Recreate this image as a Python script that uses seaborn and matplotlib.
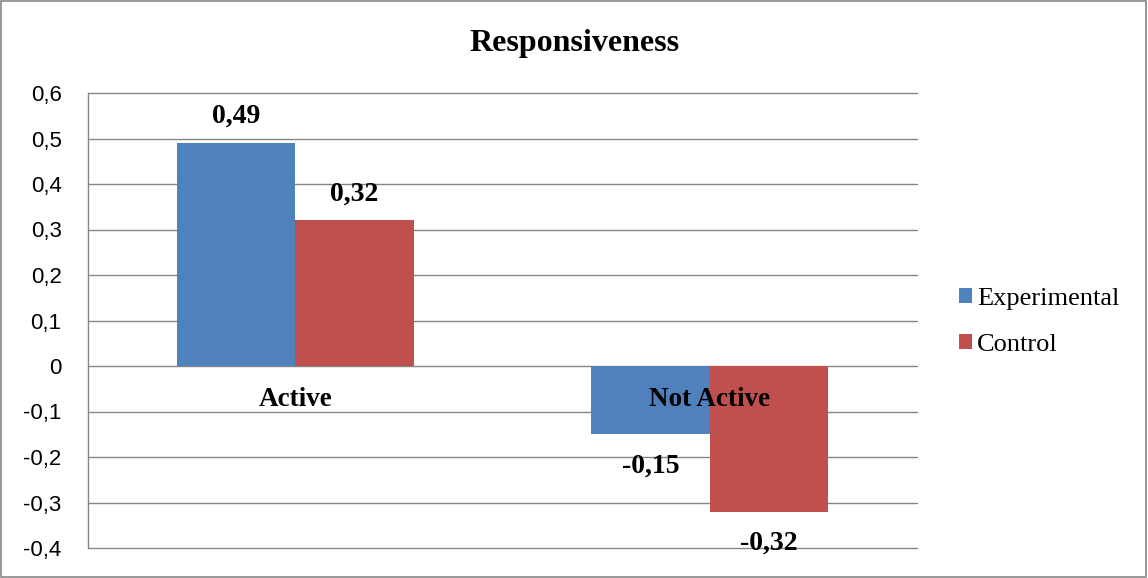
import matplotlib
matplotlib.use("Agg")
import matplotlib.pyplot as plt
import matplotlib.ticker as mticker
from matplotlib.patches import Rectangle
import seaborn as sns
import pandas as pd

categories = ["Active", "Not Active"]
series = ["Experimental", "Control"]
experimental = [0.49, -0.15]
control = [0.32, -0.32]
yticks = [-0.4, -0.3, -0.2, -0.1, 0.0, 0.1, 0.2, 0.3, 0.4, 0.5, 0.6]

df = pd.DataFrame({
    "category": categories * 2,
    "group": [series[0]] * 2 + [series[1]] * 2,
    "value": experimental + control,
})

sns.set_theme(style="white")
plt.rcParams["text.color"] = "black"
plt.rcParams["ytick.color"] = "black"
plt.rcParams["xtick.color"] = "black"
serif = ["Liberation Serif", "DejaVu Serif"]
sans = ["Liberation Sans", "DejaVu Sans"]

fig = plt.figure(figsize=(11.48, 5.78), dpi=100)
ax = fig.add_axes([88 / 1148, 1 - 548 / 578, (917 - 88) / 1148, (548 - 93) / 578])

sns.barplot(data=df, x="category", y="value", hue="group", order=categories,
            hue_order=series, palette=["#4F81BD", "#C0504D"], width=0.572,
            gap=0, saturation=1, ax=ax, legend=True, errorbar=None,
            linewidth=0)

ax.set_ylim(-0.4, 0.6)
ax.set_yticks(yticks)
ax.yaxis.set_major_formatter(mticker.FuncFormatter(
    lambda v, p: "0" if abs(v) < 1e-9 else f"{v:.1f}".replace(".", ",")))
ax.tick_params(axis="y", length=0, pad=19, labelsize=16,
               labelfontfamily="Liberation Sans", labelcolor="black")
ax.set_xticks([])
ax.set_xlabel("")
ax.set_ylabel("")
ax.grid(axis="y", color="#868686", linewidth=1)
for gl in ax.get_ygridlines():
    gl.set_clip_on(False)
ax.set_axisbelow(True)
for s in ["top", "right", "bottom"]:
    ax.spines[s].set_visible(False)
ax.spines["left"].set_color("#868686")
ax.spines["left"].set_linewidth(1)

# value labels
for cont in ax.containers:
    for bar in cont:
        h = bar.get_height()
        xc = bar.get_x() + bar.get_width() / 2
        off = 19 if h >= 0 else -23
        ax.annotate(f"{h:.2f}".replace(".", ","), xy=(xc, h), xytext=(0, off),
                    textcoords="offset points", ha="center", va="center",
                    fontsize=20, fontweight="bold", family=serif, color="black")

# category labels at zero line
for i, c in enumerate(categories):
    ax.annotate(c, xy=(i, 0), xytext=(0, -24), textcoords="offset points",
                ha="center", va="center", fontsize=19.5, fontweight="bold",
                family=serif, zorder=5, color="black")

leg = ax.get_legend()
handles, labels = ax.get_legend_handles_labels()
leg.remove()
fig.legend(handles, labels, loc="center left", bbox_to_anchor=(0.835, 0.443),
           frameon=False, prop={"family": serif, "size": 19},
           handlelength=0.5, handleheight=0.5, handletextpad=0.2,
           labelspacing=0.9, borderaxespad=0, borderpad=0)

fig.text(0.5, 1 - 43 / 578, "Responsiveness", ha="center", va="center",
         fontsize=23, fontweight="bold", family=serif, color="black")

fig.patches.append(Rectangle((0.001, 0.002), 0.997, 0.996, transform=fig.transFigure,
                             fill=False, edgecolor="#868686", linewidth=1.2))

fig.savefig("out.png", dpi=100)
